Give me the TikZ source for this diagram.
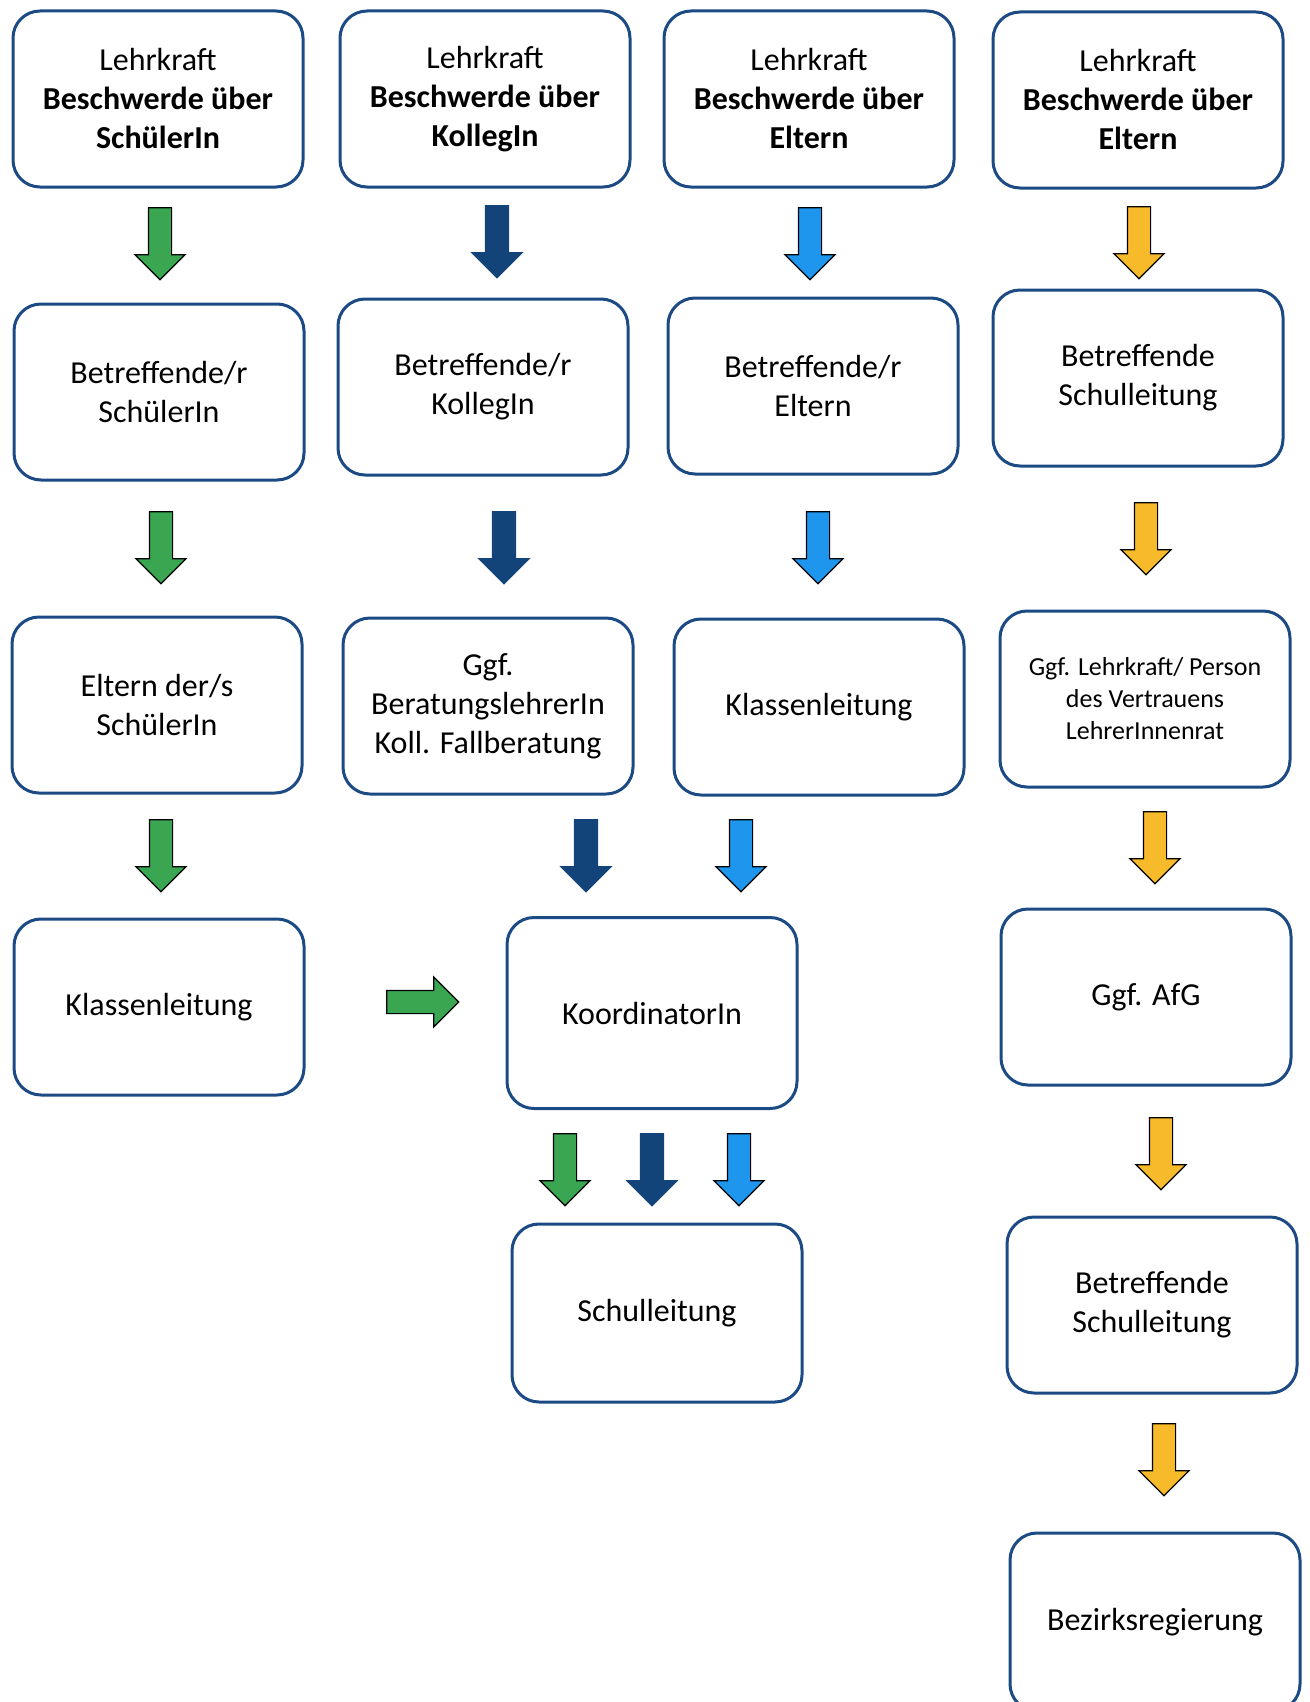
\documentclass[tikz,border=0pt]{standalone}
\usepackage{fontspec}
\setmainfont{Carlito}
\usetikzlibrary{shapes.arrows}
\definecolor{boxblue}{RGB}{28,74,132}
\definecolor{arrgreen}{RGB}{58,166,82}
\definecolor{arrdark}{RGB}{18,68,122}
\definecolor{arrlight}{RGB}{30,150,238}
\definecolor{arryellow}{RGB}{246,186,42}
\tikzset{
    my-box/.style={
        draw=boxblue, line width=3pt, rounded corners=27pt, fill=white,
        minimum width=290pt, minimum height=176pt, align=center,
        font=\fontsize{32}{39}\selectfont
    },
    my-arrow/.style={
        single arrow, draw=black, line width=1.2pt, fill=#1, rotate=-90,
        minimum height=72pt, inner xsep=0pt, inner ysep=11pt,
        single arrow head extend=13.5pt
    },
}

\begin{document}
\begin{tikzpicture}[x=1pt, y=-1pt]

        \useasboundingbox (0,0) rectangle (1309,1702);

        % SCHUELERIN
        \node[my-box] (A1) at (158,99)   {Lehrkraft\\\textbf{Beschwerde über}\\\textbf{SchülerIn}};
        \node[my-box] (A2) at (159,392)  {Betreffende/r\\SchülerIn};
        \node[my-box] (A3) at (157,705)  {Eltern der/s\\SchülerIn};
        \node[my-box] (A4) at (159,1007) {Klassenleitung};

        % KOLLEGIN
        \node[my-box] (B1) at (485,99)   {Lehrkraft\\\textbf{Beschwerde über}\\\textbf{KollegIn}};
        \node[my-box] (B2) at (483,387)  {Betreffende/r\\KollegIn};
        \node[my-box] (B3) at (488,706)  {Ggf.\\BeratungslehrerIn\\Koll. Fallberatung};

        % ELTERN
        \node[my-box] (C1) at (809,99)   {Lehrkraft\\\textbf{Beschwerde über}\\\textbf{Eltern}};
        \node[my-box] (C2) at (813,386)  {Betreffende/r\\Eltern};
        \node[my-box] (C3) at (819,707)  {Klassenleitung};

        % KOORDINATORIN, SCHULLEITUNG
        \node[my-box, minimum height=191pt] (K) at (652,1013) {KoordinatorIn};
        \node[my-box, minimum height=178pt] (S) at (657,1313) {Schulleitung};

        % ELTERN (SCHULLEITUNG)
        \node[my-box] (D1) at (1138,100)  {Lehrkraft\\\textbf{Beschwerde über}\\\textbf{Eltern}};
        \node[my-box] (D2) at (1138,378)  {Betreffende\\Schulleitung};
        \node[my-box, font=\fontsize{26}{32}\selectfont]
                      (D3) at (1145,699)  {Ggf. Lehrkraft/ Person\\des Vertrauens\\LehrerInnenrat};
        \node[my-box] (D4) at (1146,997)  {Ggf. AfG};
        \node[my-box] (D5) at (1152,1305) {Betreffende\\Schulleitung};
        \node[my-box, minimum height=178pt] (D6) at (1155,1622) {Bezirksregierung};

        % ARROWS
        \node[my-arrow=arrgreen]  (AA1) at (160,238)  {};
        \node[my-arrow=arrgreen]  (AA2) at (161,542)  {};
        \node[my-arrow=arrgreen]  (AA3) at (161,850)  {};
        \node[my-arrow=arrgreen, rotate=90] (AK) at (417,1002) {};

        \node[my-arrow=arrdark, draw=arrdark]  (BA1) at (497,236)  {};
        \node[my-arrow=arrdark, draw=arrdark]  (BA2) at (504,542)  {};
        \node[my-arrow=arrdark, draw=arrdark]  (BA3) at (586,850)  {};

        \node[my-arrow=arrlight]  (CA1) at (810,238)  {};
        \node[my-arrow=arrlight]  (CA2) at (818,542)  {};
        \node[my-arrow=arrlight]  (CA3) at (741,850)  {};

        \node[my-arrow=arrgreen]  (KA1) at (565,1164) {};
        \node[my-arrow=arrdark, draw=arrdark]   (KA2) at (652,1164) {};
        \node[my-arrow=arrlight]  (KA3) at (739,1164) {};

        \node[my-arrow=arryellow] (DA1) at (1139,237)  {};
        \node[my-arrow=arryellow] (DA2) at (1146,533)  {};
        \node[my-arrow=arryellow] (DA3) at (1155,842)  {};
        \node[my-arrow=arryellow] (DA4) at (1161,1148) {};
        \node[my-arrow=arryellow] (DA5) at (1164,1454) {};

    \end{tikzpicture}
\end{document}
